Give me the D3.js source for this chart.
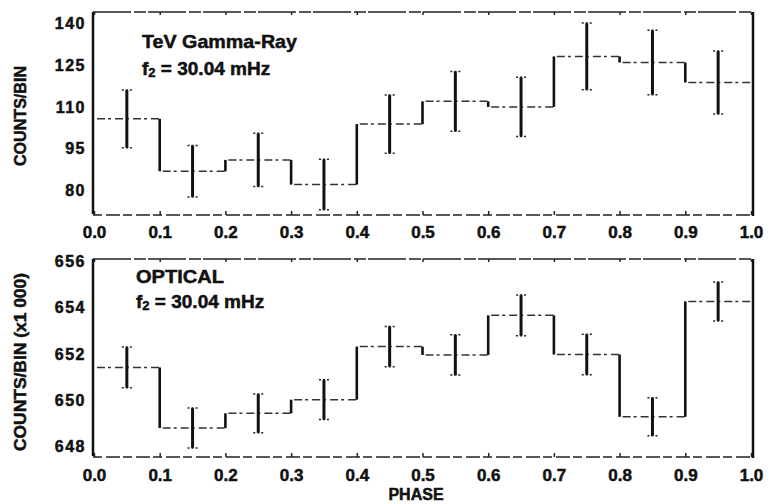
<!DOCTYPE html>
<html>
<head>
<meta charset="utf-8">
<script src="https://cdn.jsdelivr.net/npm/d3@7/dist/d3.min.js"></script>
<style>
  body { margin: 0; background: #fff; }
  text { font-family: "Liberation Sans", Arial, sans-serif; font-weight: bold; fill: #111; stroke: #111; stroke-width: 0.5px; }
</style>
</head>
<body>
<div id="chart"></div>
<script>
// Phase bins (edges) and tick labels
var binEdges = [0.0, 0.1, 0.2, 0.3, 0.4, 0.5, 0.6, 0.7, 0.8, 0.9, 1.0];
var xTicks = [0.0, 0.1, 0.2, 0.3, 0.4, 0.5, 0.6, 0.7, 0.8, 0.9, 1.0];

// TeV gamma-ray light curve (counts per bin, 1 sigma)
var gammaCounts = [105.7, 86.8, 90.9, 82.0, 103.8, 112.0, 110.0, 128.2, 126.0, 118.8];
var gammaErrors = [10.4, 9.25, 9.6, 9.1, 10.5, 10.8, 10.7, 12.0, 11.6, 11.35];
var gammaYTicks = [80, 95, 110, 125, 140];

// Optical light curve (counts per bin / 1000)
var opticalCounts = [651.42, 648.81, 649.44, 650.03, 652.32, 651.96, 653.67, 651.98, 649.29, 654.27];
var opticalErrors = [0.88, 0.86, 0.84, 0.86, 0.87, 0.87, 0.88, 0.87, 0.82, 0.84];
var opticalYTicks = [648, 650, 652, 654, 656];

var svgWidth = 768;
var svgHeight = 504;

var svg = d3.select("#chart")
  .append("svg")
  .attr("width", svgWidth)
  .attr("height", svgHeight);

var x = d3.scaleLinear().domain([0, 1]).range([94, 751]);
var frameLeft = 93, frameRight = 753;

function drawPanel(opts) {
  var y = d3.scaleLinear().domain(opts.domain).range([opts.bottom, opts.top]);
  var g = svg.append("g");

  // frame: solid left/right, broken top/bottom (scanned look)
  g.append("line")
    .attr("x1", frameLeft).attr("x2", frameLeft)
    .attr("y1", opts.top).attr("y2", opts.bottom)
    .attr("stroke", "#111").attr("stroke-width", 2.5);
  g.append("line")
    .attr("x1", frameRight).attr("x2", frameRight)
    .attr("y1", opts.top).attr("y2", opts.bottom + 2)
    .attr("stroke", "#111").attr("stroke-width", 2.5);
  g.append("line")
    .attr("x1", frameLeft).attr("x2", frameRight)
    .attr("y1", opts.top).attr("y2", opts.top)
    .attr("stroke", "#222").attr("stroke-width", 1.6)
    .attr("stroke-dasharray", "38,3,12,2");
  g.append("line")
    .attr("x1", frameLeft).attr("x2", frameRight)
    .attr("y1", opts.bottom + 1).attr("y2", opts.bottom + 1)
    .attr("stroke", "#222").attr("stroke-width", 1.6)
    .attr("stroke-dasharray", "9,4,14,3");

  // x axis (inward ticks)
  var xAxis = g.append("g")
    .attr("transform", `translate(0, ${opts.bottom + 1})`)
    .call(d3.axisBottom(x).tickValues(xTicks).tickSizeInner(-4).tickSizeOuter(0)
      .tickPadding(opts.xPad).tickFormat(d3.format(".1f")));
  xAxis.select(".domain").remove();
  xAxis.selectAll("line").attr("stroke", "#222").attr("stroke-width", 1.5);
  xAxis.selectAll("text").attr("font-size", 17).attr("fill", "#111")
    .style("font-family", "'Liberation Sans', Arial, sans-serif").style("font-weight", "bold");

  // top ticks
  g.append("g")
    .attr("transform", `translate(0, ${opts.top})`)
    .call(d3.axisTop(x).tickValues(xTicks).tickSizeInner(-3).tickSizeOuter(0).tickFormat(""))
    .call(function(a) { a.select(".domain").remove(); a.selectAll("line").attr("stroke", "#222").attr("stroke-width", 1.5); });

  // y axis labels
  var yAxis = g.append("g")
    .attr("transform", `translate(${frameLeft}, 0)`)
    .call(d3.axisLeft(y).tickValues(opts.yTicks).tickSize(0).tickPadding(7));
  yAxis.select(".domain").remove();
  yAxis.selectAll("text").attr("font-size", 16).attr("fill", "#111")
    .attr("letter-spacing", 1.5)
    .style("font-family", "'Liberation Sans', Arial, sans-serif").style("font-weight", "bold");

  // y title
  g.append("text")
    .attr("text-anchor", "middle")
    .attr("transform", `translate(26, ${opts.titleY})rotate(-90)`)
    .attr("font-size", 16)
    .attr("textLength", opts.titleLen)
    .attr("lengthAdjust", "spacingAndGlyphs")
    .text(opts.title);

  // histogram steps: horizontal levels
  var n = opts.counts.length;
  g.selectAll(".level")
    .data(opts.counts)
    .enter()
    .append("line")
    .attr("x1", (d, i) => x(binEdges[i]) + 3)
    .attr("x2", (d, i) => x(binEdges[i + 1]))
    .attr("y1", d => y(d))
    .attr("y2", d => y(d))
    .attr("stroke", "#333")
    .attr("stroke-width", 1.5)
    .attr("stroke-dasharray", "8,3,3,4");

  // vertical risers between bins
  g.selectAll(".riser")
    .data(opts.counts.slice(0, n - 1))
    .enter()
    .append("line")
    .attr("x1", (d, i) => x(binEdges[i + 1]))
    .attr("x2", (d, i) => x(binEdges[i + 1]))
    .attr("y1", d => y(d))
    .attr("y2", (d, i) => y(opts.counts[i + 1]))
    .attr("stroke", "#111")
    .attr("stroke-width", 2.6);

  // error bars at bin centres
  var centers = opts.counts.map((d, i) => (binEdges[i] + binEdges[i + 1]) / 2);
  var eb = g.selectAll(".err")
    .data(opts.counts)
    .enter()
    .append("g");
  eb.append("line")
    .attr("x1", (d, i) => x(centers[i]))
    .attr("x2", (d, i) => x(centers[i]))
    .attr("y1", (d, i) => y(d + opts.errors[i]))
    .attr("y2", (d, i) => y(d - opts.errors[i]))
    .attr("stroke", "#111")
    .attr("stroke-width", 3);
  [1, -1].forEach(function(s) {
    eb.append("line")
      .attr("x1", (d, i) => x(centers[i]) - 5)
      .attr("x2", (d, i) => x(centers[i]) + 5)
      .attr("y1", (d, i) => y(d + s * opts.errors[i]))
      .attr("y2", (d, i) => y(d + s * opts.errors[i]))
      .attr("stroke", "#222")
      .attr("stroke-width", 1.5)
      .attr("stroke-dasharray", "2,2");
  });

  // annotations
  g.append("text")
    .attr("x", opts.labelX).attr("y", opts.label1Y)
    .attr("font-size", 19)
    .attr("textLength", opts.label1Len)
    .attr("lengthAdjust", "spacingAndGlyphs")
    .text(opts.label1);
  var f = g.append("text")
    .attr("x", opts.labelX).attr("y", opts.label2Y)
    .attr("font-size", 19);
  f.append("tspan").text("f");
  f.append("tspan").attr("font-size", 13).attr("dy", 2).text("2");
  f.append("tspan").attr("dy", -2).text(" = 30.04 mHz");
}

drawPanel({
  top: 12, bottom: 214, domain: [71.4, 144.2],
  counts: gammaCounts, errors: gammaErrors, yTicks: gammaYTicks,
  title: "COUNTS/BIN", titleY: 116, titleLen: 100,
  label1: "TeV Gamma-Ray", label1Len: 155, label1Y: 48, label2Y: 75, labelX: 142,
  xPad: 11
});

drawPanel({
  top: 259, bottom: 456, domain: [647.6, 656.1],
  counts: opticalCounts, errors: opticalErrors, yTicks: opticalYTicks,
  title: "COUNTS/BIN (x1 000)", titleY: 362, titleLen: 178,
  label1: "OPTICAL", label1Len: 88, label1Y: 283, label2Y: 308, labelX: 136,
  xPad: 12
});

// x title
svg.append("text")
  .attr("x", 416).attr("y", 500)
  .attr("text-anchor", "middle")
  .attr("font-size", 16)
  .text("PHASE");
</script>
</body>
</html>
